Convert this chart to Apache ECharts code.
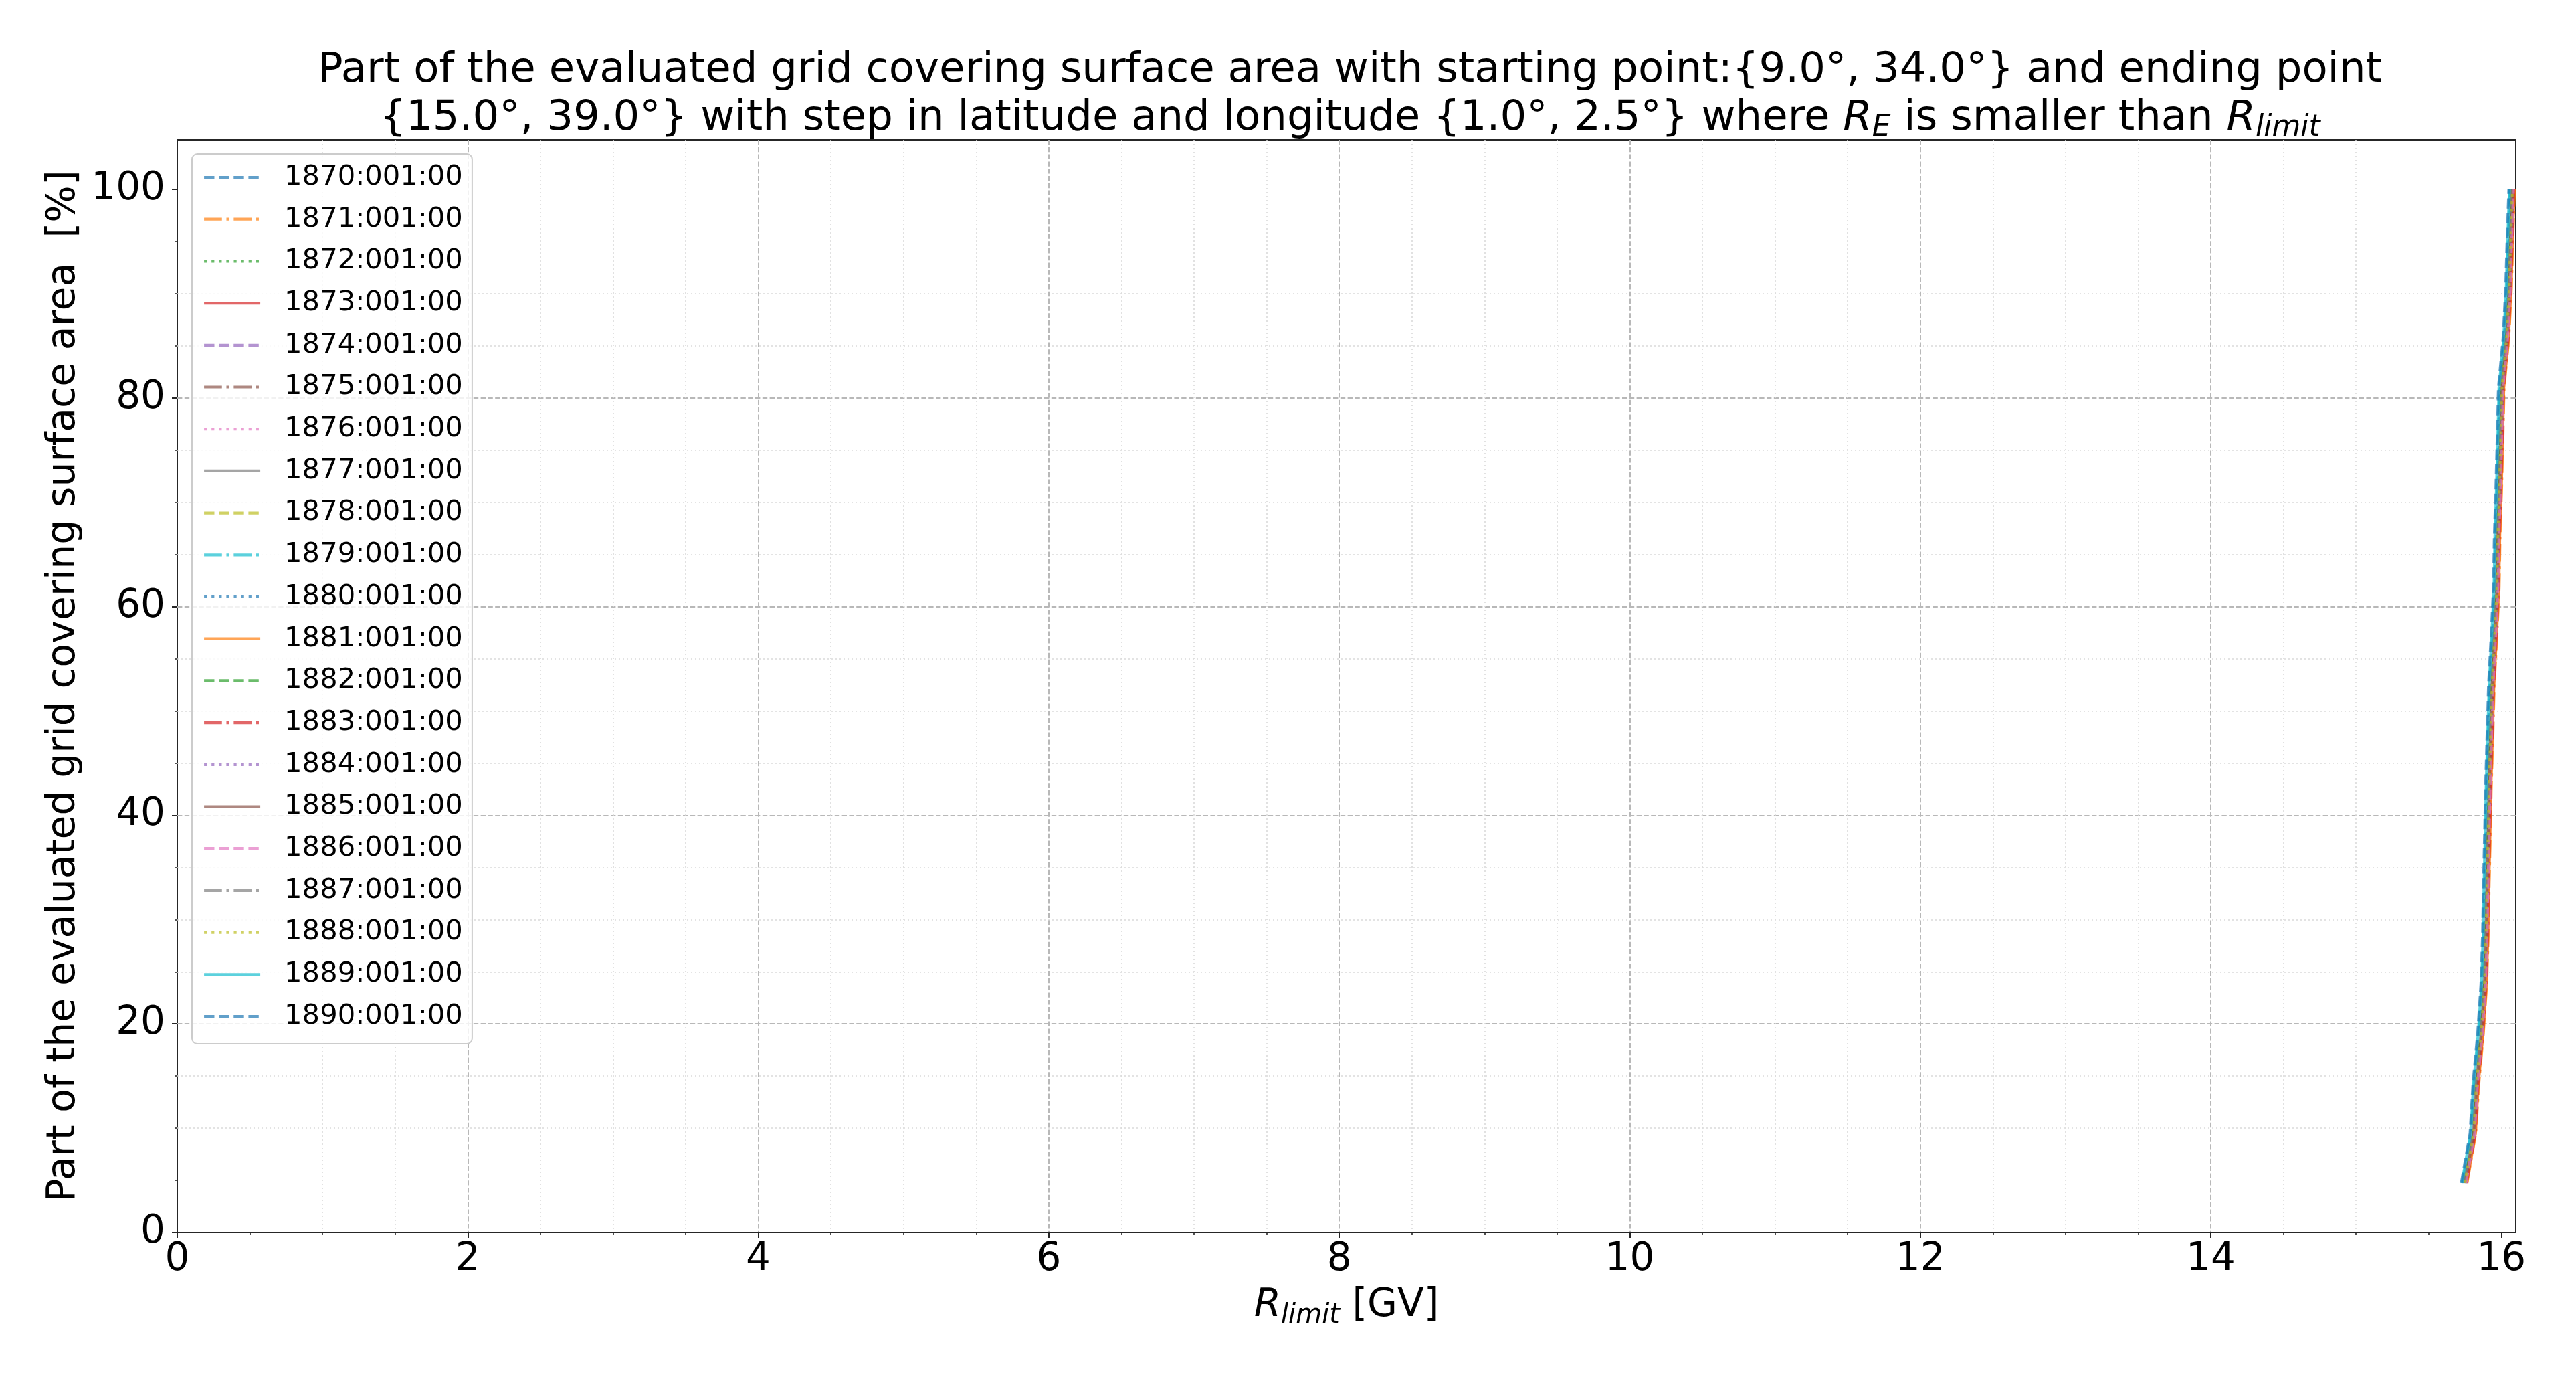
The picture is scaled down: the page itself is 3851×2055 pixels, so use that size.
<!DOCTYPE html>
<html>
<head>
<meta charset="utf-8">
<script src="https://cdn.jsdelivr.net/npm/echarts@6/dist/echarts.min.js"></script>
<style>
html,body{margin:0;padding:0;background:#fff;}
#c{width:3851px;height:2055px;}
</style>
</head>
<body>
<div id="c"></div>
<script>
// ---- data ----
const seriesNames = ["1870:001:00","1871:001:00","1872:001:00","1873:001:00","1874:001:00","1875:001:00","1876:001:00","1877:001:00","1878:001:00","1879:001:00","1880:001:00","1881:001:00","1882:001:00","1883:001:00","1884:001:00","1885:001:00","1886:001:00","1887:001:00","1888:001:00","1889:001:00","1890:001:00"];
// percentage levels (y values), shared by all series
const levels = [4.76, 9.52, 14.29, 19.05, 23.81, 28.57, 33.33, 38.10, 42.86, 47.62, 52.38, 57.14, 61.90, 66.67, 71.43, 76.19, 80.95, 85.71, 90.48, 95.24, 100.00];
// R_limit values (x) per series
const r1870 = [15.745, 15.806, 15.825, 15.857, 15.881, 15.891, 15.897, 15.906, 15.912, 15.922, 15.933, 15.950, 15.966, 15.972, 15.984, 15.992, 16.000, 16.032, 16.050, 16.061, 16.072];
const r1871 = [15.765, 15.825, 15.846, 15.877, 15.900, 15.911, 15.917, 15.925, 15.932, 15.943, 15.952, 15.970, 15.986, 15.992, 16.003, 16.012, 16.020, 16.052, 16.070, 16.080, 16.092];
const r1872 = [15.753, 15.813, 15.833, 15.865, 15.888, 15.899, 15.906, 15.913, 15.920, 15.930, 15.940, 15.958, 15.974, 15.980, 15.991, 16.000, 16.008, 16.040, 16.058, 16.068, 16.080];
const r1873 = [15.761, 15.821, 15.841, 15.873, 15.896, 15.907, 15.913, 15.921, 15.928, 15.938, 15.948, 15.966, 15.982, 15.988, 15.999, 16.008, 16.016, 16.048, 16.066, 16.076, 16.088];
const r1874 = [15.757, 15.817, 15.837, 15.869, 15.892, 15.903, 15.909, 15.917, 15.924, 15.934, 15.944, 15.962, 15.978, 15.984, 15.995, 16.004, 16.012, 16.044, 16.062, 16.072, 16.084];
const r1875 = [15.749, 15.809, 15.829, 15.861, 15.884, 15.895, 15.901, 15.909, 15.916, 15.926, 15.936, 15.954, 15.970, 15.976, 15.987, 15.996, 16.004, 16.036, 16.054, 16.064, 16.076];
const r1876 = [15.759, 15.819, 15.839, 15.871, 15.894, 15.905, 15.911, 15.919, 15.926, 15.936, 15.946, 15.964, 15.980, 15.986, 15.997, 16.006, 16.014, 16.046, 16.064, 16.074, 16.086];
const r1877 = [15.747, 15.807, 15.827, 15.859, 15.882, 15.893, 15.899, 15.907, 15.914, 15.924, 15.934, 15.952, 15.968, 15.974, 15.985, 15.994, 16.002, 16.034, 16.052, 16.062, 16.074];
const r1878 = [15.751, 15.811, 15.831, 15.863, 15.886, 15.897, 15.903, 15.911, 15.918, 15.928, 15.938, 15.956, 15.972, 15.978, 15.989, 15.998, 16.006, 16.038, 16.056, 16.066, 16.078];
const r1879 = [15.733, 15.793, 15.813, 15.845, 15.868, 15.879, 15.885, 15.893, 15.900, 15.910, 15.920, 15.938, 15.954, 15.960, 15.971, 15.980, 15.988, 16.020, 16.038, 16.048, 16.060];
const r1880 = [15.739, 15.799, 15.819, 15.851, 15.874, 15.885, 15.891, 15.899, 15.906, 15.916, 15.926, 15.944, 15.960, 15.966, 15.977, 15.986, 15.994, 16.026, 16.044, 16.054, 16.066];
const r1881 = [15.763, 15.823, 15.843, 15.875, 15.898, 15.909, 15.915, 15.923, 15.930, 15.940, 15.950, 15.968, 15.984, 15.990, 16.001, 16.010, 16.018, 16.050, 16.068, 16.078, 16.090];
const r1882 = [15.749, 15.810, 15.829, 15.861, 15.884, 15.895, 15.902, 15.909, 15.916, 15.926, 15.937, 15.954, 15.970, 15.977, 15.987, 15.996, 16.004, 16.036, 16.054, 16.064, 16.076];
const r1883 = [15.760, 15.820, 15.840, 15.872, 15.895, 15.906, 15.912, 15.920, 15.927, 15.937, 15.947, 15.965, 15.981, 15.987, 15.998, 16.007, 16.015, 16.047, 16.065, 16.075, 16.087];
const r1884 = [15.755, 15.815, 15.835, 15.867, 15.890, 15.901, 15.907, 15.915, 15.922, 15.932, 15.942, 15.960, 15.976, 15.982, 15.993, 16.002, 16.010, 16.042, 16.060, 16.070, 16.082];
const r1885 = [15.751, 15.811, 15.832, 15.863, 15.886, 15.897, 15.904, 15.911, 15.918, 15.928, 15.938, 15.956, 15.972, 15.978, 15.990, 15.998, 16.006, 16.038, 16.056, 16.066, 16.078];
const r1886 = [15.757, 15.817, 15.837, 15.869, 15.892, 15.903, 15.909, 15.917, 15.924, 15.934, 15.944, 15.962, 15.978, 15.984, 15.995, 16.004, 16.012, 16.044, 16.062, 16.072, 16.084];
const r1887 = [15.743, 15.803, 15.823, 15.855, 15.878, 15.889, 15.895, 15.903, 15.910, 15.920, 15.930, 15.948, 15.964, 15.970, 15.981, 15.990, 15.998, 16.030, 16.048, 16.058, 16.070];
const r1888 = [15.750, 15.810, 15.830, 15.862, 15.885, 15.896, 15.902, 15.910, 15.917, 15.927, 15.937, 15.955, 15.971, 15.977, 15.988, 15.997, 16.005, 16.037, 16.055, 16.065, 16.077];
const r1889 = [15.729, 15.789, 15.809, 15.841, 15.864, 15.875, 15.881, 15.889, 15.896, 15.906, 15.916, 15.934, 15.950, 15.956, 15.967, 15.976, 15.984, 16.016, 16.034, 16.044, 16.056];
const r1890 = [15.725, 15.785, 15.805, 15.837, 15.860, 15.871, 15.877, 15.885, 15.892, 15.902, 15.912, 15.930, 15.946, 15.952, 15.963, 15.972, 15.980, 16.012, 16.030, 16.040, 16.052];
const rValues = [r1870, r1871, r1872, r1873, r1874, r1875, r1876, r1877, r1878, r1879, r1880, r1881, r1882, r1883, r1884, r1885, r1886, r1887, r1888, r1889, r1890];

// tick values
const xMajorTicks = [0, 2, 4, 6, 8, 10, 12, 14, 16];
const xMinorTicks = [0.5, 1, 1.5, 2.5, 3, 3.5, 4.5, 5, 5.5, 6.5, 7, 7.5, 8.5, 9, 9.5, 10.5, 11, 11.5, 12.5, 13, 13.5, 14.5, 15, 15.5];
const yMajorTicks = [0, 20, 40, 60, 80, 100];
const yMinorTicks = [5, 10, 15, 25, 30, 35, 45, 50, 55, 65, 70, 75, 85, 90, 95];

// ---- style ----
const FONT = "DejaVu Sans";
const tab10 = ["31,119,180","255,127,14","44,160,44","214,39,40","148,103,189","140,86,75","227,119,194","127,127,127","188,189,34","23,190,207"];
const LW = 4.17;
const dashes = [[15.4, 6.7], [26.7, 6.7, 4.2, 6.7], [4.2, 6.9], 'solid'];

const series = seriesNames.map((name, i) => ({
  name: name,
  type: 'line',
  xAxisIndex: 0,
  yAxisIndex: 0,
  symbol: 'none',
  showSymbol: false,
  smooth: false,
  animation: false,
  data: rValues[i].map((x, k) => [x, levels[k]]),
  lineStyle: { color: 'rgba(' + tab10[i % 10] + ',0.7)', width: LW, type: dashes[i % 4], cap: 'butt' },
  itemStyle: { color: 'rgba(' + tab10[i % 10] + ',0.7)' }
}));

const majorSplit = { show: true, showMinLine: false, showMaxLine: false, lineStyle: { color: '#b8b8b8', width: 2, type: [7.4, 3.4] } };
const minorSplit = { show: true, showMinLine: false, showMaxLine: false, lineStyle: { color: '#dadada', width: 1.6, type: [2, 4] } };
const axisRich = {
  i: { fontFamily: FONT, fontSize: 58, fontStyle: 'italic', color: '#000' },
  s: { fontFamily: FONT, fontSize: 40, fontStyle: 'italic', color: '#000', lineHeight: 26, verticalAlign: 'bottom' }
};
const titleRich = {
  i: { fontFamily: FONT, fontSize: 62.5, fontStyle: 'italic', color: '#000' },
  s: { fontFamily: FONT, fontSize: 44, fontStyle: 'italic', color: '#000', lineHeight: 28, verticalAlign: 'bottom' }
};

const chart = echarts.init(document.getElementById('c'), null, { renderer: 'canvas', width: 3851, height: 2055 });
chart.setOption({
  animation: false,
  backgroundColor: '#ffffff',
  title: {
    text: 'Part of the evaluated grid covering surface area with starting point:{9.0°, 34.0°} and ending point\n{15.0°, 39.0°} with step in latitude and longitude {1.0°, 2.5°} where {i|R}{s|E} is smaller than {i|R}{s|limit}',
    left: 2013,
    top: 65,
    textAlign: 'center',
    textStyle: { fontFamily: FONT, fontSize: 62.5, fontWeight: 'normal', color: '#000', lineHeight: 72, rich: titleRich }
  },
  grid: { left: 265, right: 90, top: 209, bottom: 213, show: true, borderColor: '#262626', borderWidth: 2, backgroundColor: 'transparent' },
  legend: {
    orient: 'vertical',
    left: 287,
    top: 230,
    data: seriesNames,
    itemWidth: 84,
    itemHeight: 20,
    itemGap: 12.7,
    padding: [10, 14, 16, 16],
    backgroundColor: 'rgba(255,255,255,0.8)',
    borderColor: '#cccccc',
    borderWidth: 2,
    borderRadius: 8,
    itemStyle: { opacity: 0 },
    lineStyle: { width: LW },
    textStyle: { fontFamily: FONT, fontSize: 41.7, color: '#000', lineHeight: 50, padding: [0, 0, 0, 31] }
  },
  xAxis: [
    {
      type: 'value', min: 0, max: 16.1, position: 'bottom',
      axisLine: { show: false },
      axisTick: { show: true, customValues: xMajorTicks, length: 8, lineStyle: { color: '#262626', width: 2 } },
      axisLabel: { show: true, customValues: xMajorTicks, margin: 12, fontFamily: FONT, fontSize: 58, color: '#000' },
      splitLine: majorSplit,
      name: '{i|R}{s|limit} [GV]',
      nameLocation: 'middle',
      nameGap: 74,
      nameTextStyle: { fontFamily: FONT, fontSize: 58, color: '#000', lineHeight: 70, rich: axisRich }
    },
    {
      type: 'value', min: 0, max: 16.1, position: 'bottom',
      axisLine: { show: false },
      axisTick: { show: true, customValues: xMinorTicks, length: 4, lineStyle: { color: '#262626', width: 1.6 } },
      axisLabel: { show: false },
      splitLine: minorSplit
    }
  ],
  yAxis: [
    {
      type: 'value', min: 0, max: 104.75, position: 'left',
      axisLine: { show: false },
      axisTick: { show: true, customValues: yMajorTicks, length: 8, lineStyle: { color: '#262626', width: 2 } },
      axisLabel: { show: true, customValues: yMajorTicks, margin: 18, fontFamily: FONT, fontSize: 58, color: '#000' },
      splitLine: majorSplit,
      name: 'Part of the evaluated grid covering surface area  [%]',
      nameLocation: 'middle',
      nameGap: 132,
      nameTextStyle: { fontFamily: FONT, fontSize: 58.5, color: '#000', lineHeight: 58 }
    },
    {
      type: 'value', min: 0, max: 104.75, position: 'left',
      axisLine: { show: false },
      axisTick: { show: true, customValues: yMinorTicks, length: 4, lineStyle: { color: '#262626', width: 1.6 } },
      axisLabel: { show: false },
      splitLine: minorSplit
    }
  ],
  series: series
});
</script>
</body>
</html>
